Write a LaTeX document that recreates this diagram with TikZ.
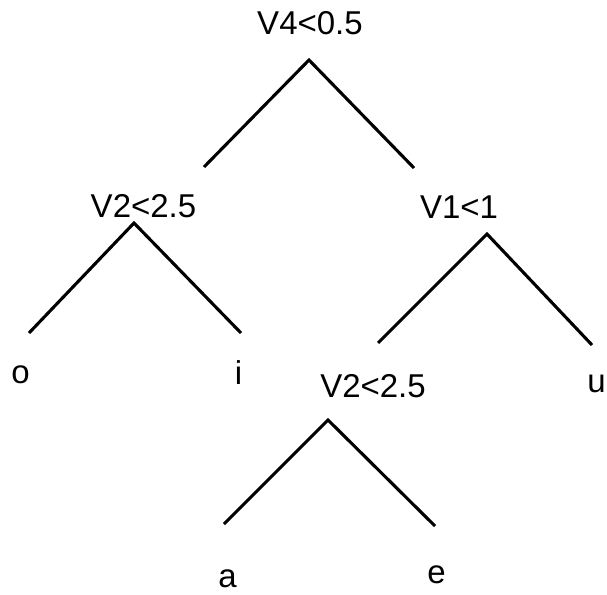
\documentclass[tikz,border=0pt]{standalone}
\usepackage{fontspec}
\setmainfont{Liberation Sans}
\begin{document}
\begin{tikzpicture}[x=1pt,y=-1pt,
  lbl/.style={anchor=base,inner sep=0pt,font=\fontsize{33}{40}\selectfont},
  branch/.style={line width=3.1pt,line cap=butt,line join=miter}]
\useasboundingbox (0,0) rectangle (607,594);
% labels
\node[lbl] (root) at (310,35) {V4<0.5};
\node[lbl] (lv2) at (143.5,217) {V2<2.5};
\node[lbl] (v1) at (459,218) {V1<1};
\node[lbl] (bv2) at (373,397) {V2<2.5};
\node[lbl] (o) at (20.5,383) {o};
\node[lbl] (i) at (238.5,384) {i};
\node[lbl] (u) at (596.5,392) {u};
\node[lbl] (a) at (227.5,587) {a};
\node[lbl] (e) at (436.5,583) {e};
% branch points
\coordinate (rootA) at (309,60);
\coordinate (rootL) at (204,167);
\coordinate (rootR) at (414,168);
\coordinate (lv2A) at (134,223);
\coordinate (lv2L) at (29,333);
\coordinate (lv2R) at (241,333);
\coordinate (v1A) at (487,234);
\coordinate (v1L) at (378,343);
\coordinate (v1R) at (592,345);
\coordinate (bv2A) at (328,420);
\coordinate (bv2L) at (224,524);
\coordinate (bv2R) at (435,526);
\draw[branch] (rootL) -- (rootA) -- (rootR);
\draw[branch] (lv2L) -- (lv2A) -- (lv2R);
\draw[branch] (v1L) -- (v1A) -- (v1R);
\draw[branch] (bv2L) -- (bv2A) -- (bv2R);
\end{tikzpicture}
\end{document}
